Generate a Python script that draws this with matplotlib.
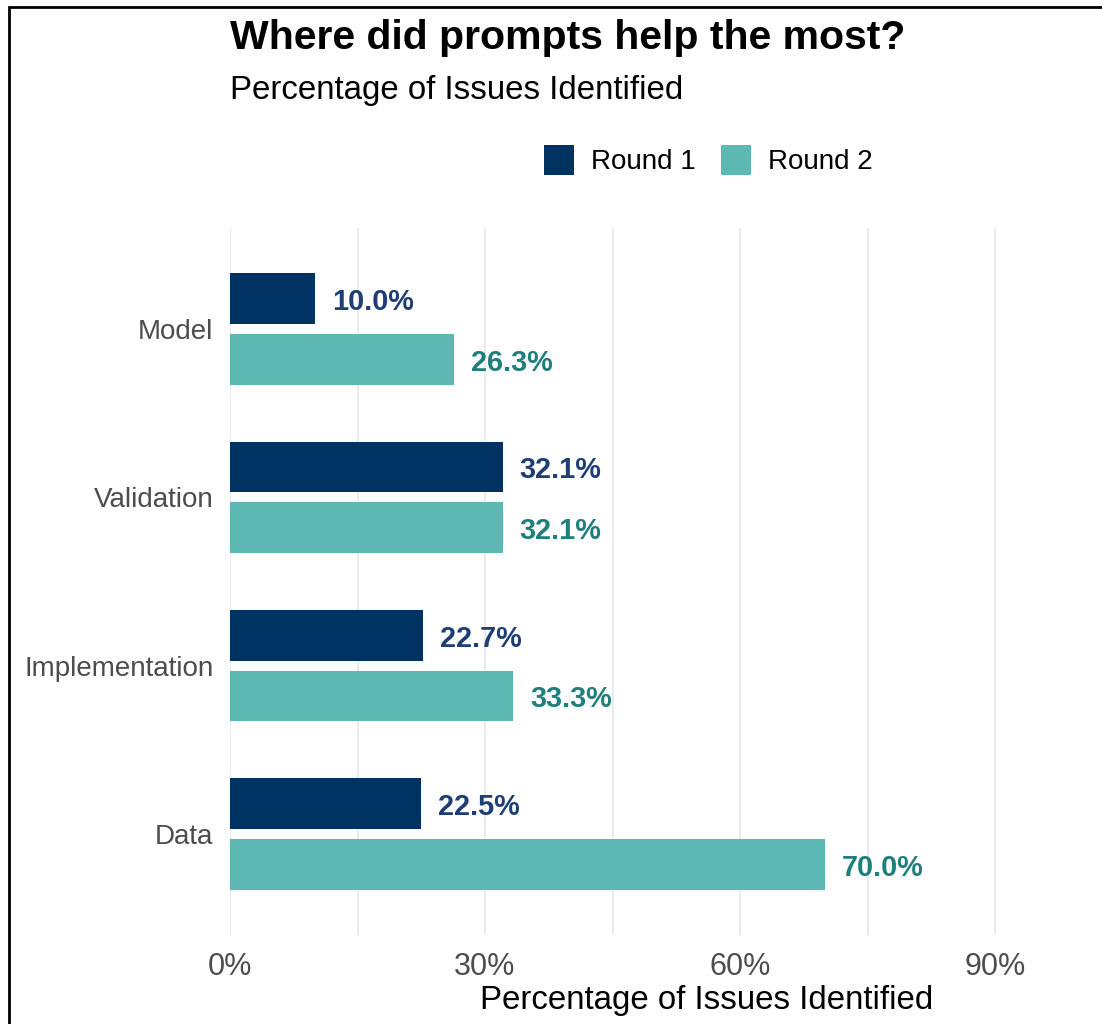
import numpy as np
import matplotlib.pyplot as plt
from matplotlib.patches import Rectangle, Patch

plt.rcParams['font.family'] = ['Liberation Sans', 'DejaVu Sans']

# data
categories = ["Model", "Validation", "Implementation", "Data"]
round1 = [10.0, 32.1, 22.7, 22.5]
round2 = [26.3, 32.1, 33.3, 70.0]
series_names = ["Round 1", "Round 2"]

C_R1 = "#003361"
C_R2 = "#5DB8B3"
C_R1_TXT = "#1D3F73"
C_R2_TXT = "#1E7F7C"

W, H = 1102, 1024
fig = plt.figure(figsize=(W / 100, H / 100), dpi=100)
ax = fig.add_axes([230 / W, 1 - 935 / H, 850 / W, (935 - 228) / H])

# categories listed top to bottom
y = np.arange(len(categories))[::-1].astype(float)
bar_h = 0.30
off = 0.18

ax.barh(y + off, round1, height=bar_h, color=C_R1, zorder=2)
ax.barh(y - off, round2, height=bar_h, color=C_R2, zorder=2)

for yi, v in zip(y, round1):
    ax.text(v + 2, yi + off - 0.02, f"{v:.1f}%", va="center", ha="left",
            fontsize=20.8, fontweight="bold", color=C_R1_TXT)
for yi, v in zip(y, round2):
    ax.text(v + 2, yi - off - 0.02, f"{v:.1f}%", va="center", ha="left",
            fontsize=20.8, fontweight="bold", color=C_R2_TXT)

ax.set_xlim(0, 100)
ax.set_ylim(-0.6, 3.6)

ax.set_xticks([0, 30, 60, 90])
ax.set_xticklabels(["0%", "30%", "60%", "90%"])
ax.set_xticks([15, 45, 75], minor=True)
ax.set_yticks(y)
ax.set_yticklabels(categories)

ax.grid(axis="x", which="both", color="#EBEBEB", linewidth=1.5, zorder=0)
ax.grid(axis="y", visible=False)
ax.tick_params(axis="both", which="both", length=0, labelcolor="#4D4D4D")
ax.tick_params(axis="x", labelsize=22, pad=12)
ax.tick_params(axis="y", labelsize=20, pad=12)
for s in ax.spines.values():
    s.set_visible(False)

ax.set_xlabel("Percentage of Issues Identified", fontsize=23.8, color="black",
              va="center")
ax.xaxis.set_label_coords((706.5 - 230) / 850, (935 - 1000) / 707)

fig.text(230 / W, 1 - 38 / H, "Where did prompts help the most?", fontsize=29.5,
         fontweight="bold", va="center", ha="left")
fig.text(230 / W, 1 - 91 / H, "Percentage of Issues Identified", fontsize=23.8,
         va="center", ha="left")

handles = [Patch(facecolor=C_R1), Patch(facecolor=C_R2)]
fig.legend(handles, series_names, loc="center", ncol=2,
           bbox_to_anchor=(708 / W, 1 - 160 / H), frameon=False, fontsize=20,
           handlelength=1.1, handleheight=1.3, handletextpad=0.6,
           columnspacing=0.9)

# outer frame
fig.add_artist(Rectangle((9 / W, -0.1), 1.2, 1 - 7 / H + 0.1,
                         transform=fig.transFigure, fill=False,
                         edgecolor="black", linewidth=2))

fig.savefig("out.png", dpi=100)
